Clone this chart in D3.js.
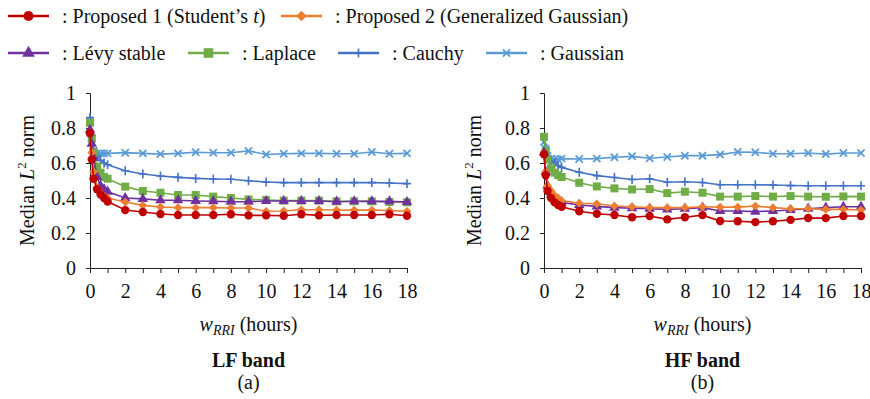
<!DOCTYPE html>
<head>
<meta charset="utf-8">
<script src="https://cdn.jsdelivr.net/npm/d3@7"></script>
<style>
  body { margin: 0; background: white; }
  svg text { font-family: "Liberation Serif", "Times New Roman", serif !important; fill: #111; }
</style>
</head>
<body>
<svg id="chart" width="870" height="399"></svg>
<script>
  // x positions of the samples (hours)
  let hours = [0, 0.1, 0.2, 0.4, 0.6, 0.8, 1, 2, 3, 4, 5, 6, 7, 8, 9, 10, 11, 12, 13, 14, 15, 16, 17, 18];
  let xTicks = [0, 2, 4, 6, 8, 10, 12, 14, 16, 18];
  let xMinorTicks = [0, 1, 2, 3, 4, 5, 6, 7, 8, 9, 10, 11, 12, 13, 14, 15, 16, 17, 18];
  let yTicks = [0, 0.2, 0.4, 0.6, 0.8, 1];

  let seriesNames = ["Proposed 1 (Student\u2019s t)", "Proposed 2 (Generalized Gaussian)", "L\u00e9vy stable", "Laplace", "Cauchy", "Gaussian"];
  let seriesColors = ["#C00000", "#ED7D31", "#7030A0", "#70AD47", "#4472C4", "#5B9BD5"];
  let seriesMarkers = ["circle", "diamond", "triangle", "square", "plus", "cross"];

  // LF band
  let lfProposed1 = [0.77, 0.62, 0.51, 0.45, 0.42, 0.40, 0.38, 0.331, 0.32, 0.309, 0.303, 0.303, 0.303, 0.307, 0.301, 0.301, 0.299, 0.307, 0.301, 0.303, 0.303, 0.303, 0.307, 0.299];
  let lfProposed2 = [0.77, 0.66, 0.55, 0.46, 0.43, 0.41, 0.40, 0.377, 0.358, 0.349, 0.345, 0.345, 0.345, 0.343, 0.343, 0.324, 0.326, 0.333, 0.333, 0.331, 0.331, 0.331, 0.329, 0.324];
  let lfLevy = [0.79, 0.71, 0.63, 0.52, 0.47, 0.45, 0.436, 0.40, 0.395, 0.387, 0.387, 0.383, 0.381, 0.379, 0.379, 0.383, 0.383, 0.383, 0.383, 0.379, 0.381, 0.381, 0.381, 0.377];
  let lfLaplace = [0.83, 0.74, 0.66, 0.58, 0.545, 0.52, 0.51, 0.465, 0.44, 0.43, 0.417, 0.417, 0.408, 0.40, 0.392, 0.389, 0.385, 0.385, 0.385, 0.381, 0.381, 0.381, 0.377, 0.375];
  let lfCauchy = [0.86, 0.76, 0.68, 0.64, 0.615, 0.60, 0.59, 0.556, 0.537, 0.526, 0.518, 0.512, 0.509, 0.507, 0.499, 0.491, 0.488, 0.488, 0.488, 0.488, 0.488, 0.488, 0.486, 0.482];
  let lfGaussian = [0.84, 0.74, 0.67, 0.655, 0.655, 0.655, 0.655, 0.659, 0.655, 0.651, 0.655, 0.661, 0.659, 0.659, 0.669, 0.649, 0.653, 0.655, 0.655, 0.653, 0.653, 0.663, 0.653, 0.655];

  // HF band
  let hfProposed1 = [0.65, 0.53, 0.44, 0.40, 0.375, 0.36, 0.35, 0.324, 0.31, 0.303, 0.29, 0.297, 0.278, 0.29, 0.302, 0.269, 0.267, 0.262, 0.267, 0.275, 0.286, 0.285, 0.297, 0.297];
  let hfProposed2 = [0.65, 0.55, 0.47, 0.44, 0.415, 0.40, 0.385, 0.37, 0.367, 0.354, 0.35, 0.345, 0.345, 0.345, 0.35, 0.348, 0.348, 0.354, 0.345, 0.339, 0.339, 0.335, 0.335, 0.331];
  let hfLevy = [0.66, 0.55, 0.47, 0.42, 0.40, 0.385, 0.375, 0.36, 0.352, 0.345, 0.341, 0.339, 0.335, 0.339, 0.345, 0.326, 0.326, 0.322, 0.326, 0.331, 0.339, 0.345, 0.35, 0.35];
  let hfLaplace = [0.75, 0.67, 0.62, 0.57, 0.545, 0.53, 0.52, 0.487, 0.466, 0.455, 0.449, 0.451, 0.428, 0.436, 0.43, 0.408, 0.408, 0.411, 0.408, 0.411, 0.408, 0.407, 0.409, 0.408];
  let hfCauchy = [0.74, 0.68, 0.64, 0.61, 0.60, 0.585, 0.575, 0.547, 0.528, 0.517, 0.506, 0.51, 0.49, 0.493, 0.489, 0.476, 0.476, 0.476, 0.474, 0.471, 0.47, 0.47, 0.47, 0.47];
  let hfGaussian = [0.72, 0.68, 0.64, 0.625, 0.62, 0.62, 0.625, 0.623, 0.625, 0.633, 0.638, 0.627, 0.634, 0.642, 0.642, 0.648, 0.663, 0.661, 0.653, 0.653, 0.657, 0.651, 0.657, 0.657];

  let panels = [
    {title: "LF band", tag: "(a)", left: 90, labelX: 34, series: [lfProposed1, lfProposed2, lfLevy, lfLaplace, lfCauchy, lfGaussian]},
    {title: "HF band", tag: "(b)", left: 544, labelX: 481, series: [hfProposed1, hfProposed2, hfLevy, hfLaplace, hfCauchy, hfGaussian]}
  ];

  let svg = d3.select("#chart");
  let plotW = 317, plotTop = 93, plotBottom = 268;

  function drawMarker(g, type, color, k) {
    k = k || 1;
    if (type == "circle") {
      g.append("circle").attr("r", 4.2 * k).attr("fill", color);
    } else if (type == "square") {
      g.append("rect").attr("x", -4 * k).attr("y", -4 * k).attr("width", 8 * k).attr("height", 8 * k).attr("fill", color);
    } else if (type == "triangle") {
      g.append("path").attr("d", d3.symbol(d3.symbolTriangle, 48 * k * k)()).attr("fill", color);
    } else if (type == "diamond") {
      let r = 4.4 * k;
      g.append("path").attr("d", "M0," + (-r) + "L" + r + ",0L0," + r + "L" + (-r) + ",0Z").attr("fill", color);
    } else if (type == "plus") {
      g.append("path").attr("d", "M-4,0H4M0,-4.5V4.5").attr("stroke", color).attr("stroke-width", 1.6);
    } else {
      g.append("path").attr("d", "M-3.6,-3.6L3.6,3.6M-3.6,3.6L3.6,-3.6").attr("stroke", color).attr("stroke-width", 1.8);
    }
  }

  panels.forEach(function(p) {
    let x = d3.scaleLinear().domain([0, 18]).range([p.left, p.left + plotW]);
    let y = d3.scaleLinear().domain([0, 1]).range([plotBottom, plotTop]);

    // y axis
    let yAxis = svg.append("g").attr("transform", "translate(" + p.left + ",0)")
      .call(d3.axisLeft(y).tickValues(yTicks).tickSize(4).tickFormat(d3.format("")));
    yAxis.select(".domain").attr("stroke", "#222");
    yAxis.selectAll("line").attr("stroke", "#222");
    yAxis.selectAll("text").attr("x", -14).style("font-size", "20px");

    // x axis: minor ticks every hour, labels every 2
    let xAxis = svg.append("g").attr("transform", "translate(0," + plotBottom + ")")
      .call(d3.axisBottom(x).tickValues(xMinorTicks).tickSize(5).tickSizeOuter(0)
        .tickFormat(function(d) { return xTicks.indexOf(d) >= 0 ? d : ""; }));
    xAxis.select(".domain").attr("stroke", "#222");
    xAxis.selectAll("line").attr("stroke", "#222");
    xAxis.selectAll("text").attr("y", 16).style("font-size", "20px");

    let cx = p.left + plotW / 2;

    // y label
    let yl = svg.append("text").attr("transform", "translate(" + p.labelX + "," + ((plotTop + plotBottom) / 2) + ") rotate(-90)")
      .attr("text-anchor", "middle").style("font-size", "20px");
    yl.append("tspan").text("Median ");
    yl.append("tspan").attr("font-style", "italic").text("L");
    yl.append("tspan").attr("dy", -8).style("font-size", "13px").text("2");
    yl.append("tspan").attr("dy", 8).text(" norm");

    // x label
    let xl = svg.append("text").attr("x", cx).attr("y", 331).attr("text-anchor", "middle").style("font-size", "20px");
    xl.append("tspan").attr("font-style", "italic").text("w");
    xl.append("tspan").attr("font-style", "italic").attr("dy", 4).style("font-size", "14px").text("RRI");
    xl.append("tspan").attr("dy", -4).text(" (hours)");

    svg.append("text").attr("x", cx).attr("y", 367).attr("text-anchor", "middle")
      .style("font-size", "20px").style("font-weight", "bold").text(p.title);
    svg.append("text").attr("x", cx).attr("y", 389).attr("text-anchor", "middle")
      .style("font-size", "20px").text(p.tag);

    let line = d3.line().x(function(d, i) { return x(hours[i]); }).y(function(d) { return y(d); });

    // later series on top, like the spreadsheet
    for (let s = p.series.length - 1; s >= 0; s--) {
      let vals = p.series[s];
      svg.append("path").datum(vals).attr("d", line).attr("fill", "none")
        .attr("stroke", seriesColors[s]).attr("stroke-width", 1.6);
      vals.forEach(function(v, i) {
        let g = svg.append("g").attr("transform", "translate(" + x(hours[i]) + "," + y(v) + ")");
        drawMarker(g, seriesMarkers[s], seriesColors[s]);
      });
    }
  });

  // legend
  let legendPos = [[8, 16], [281, 16], [8, 53], [188, 53], [338, 53], [486, 53]];
  seriesNames.forEach(function(name, i) {
    let lx = legendPos[i][0], ly = legendPos[i][1];
    svg.append("line").attr("x1", lx).attr("x2", lx + 41).attr("y1", ly).attr("y2", ly)
      .attr("stroke", seriesColors[i]).attr("stroke-width", 2.6);
    let g = svg.append("g").attr("transform", "translate(" + (lx + 20.5) + "," + ly + ")");
    drawMarker(g, seriesMarkers[i], seriesColors[i], 1.2);
    let t = svg.append("text").attr("x", lx + 54).attr("y", ly + 7).style("font-size", "20px");
    if (i == 0) {
      t.append("tspan").text(": Proposed 1 (Student\u2019s ");
      t.append("tspan").attr("font-style", "italic").text("t");
      t.append("tspan").text(")");
    } else {
      t.text(": " + name);
    }
  });
</script>
</body>
